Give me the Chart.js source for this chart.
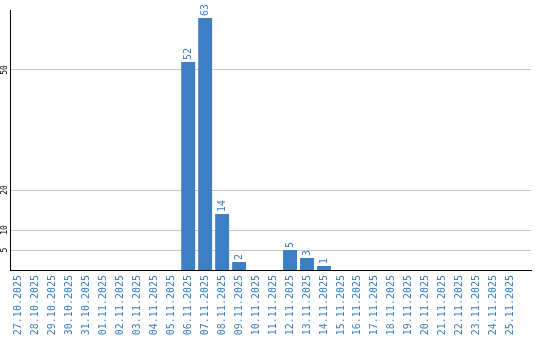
<!DOCTYPE html>
<html>
<head>
<meta charset="utf-8">
<script src="https://cdn.jsdelivr.net/npm/chart.js@4/dist/chart.umd.min.js"></script>
<style>
  html, body { margin: 0; padding: 0; background: #fff; }
  #wrap { width: 540px; height: 340px; }
</style>
</head>
<body>
<div id="wrap"><canvas id="grafico"></canvas></div>
<script>
const dias = [
  "27.10.2025", "28.10.2025", "29.10.2025", "30.10.2025", "31.10.2025",
  "01.11.2025", "02.11.2025", "03.11.2025", "04.11.2025", "05.11.2025",
  "06.11.2025", "07.11.2025", "08.11.2025", "09.11.2025", "10.11.2025",
  "11.11.2025", "12.11.2025", "13.11.2025", "14.11.2025", "15.11.2025",
  "16.11.2025", "17.11.2025", "18.11.2025", "19.11.2025", "20.11.2025",
  "21.11.2025", "22.11.2025", "23.11.2025", "24.11.2025", "25.11.2025",
];
const valores = [
  0, 0, 0, 0, 0,
  0, 0, 0, 0, 0,
  52, 63, 14, 2, 0,
  0, 5, 3, 1, 0,
  0, 0, 0, 0, 0,
  0, 0, 0, 0, 0,
];
const ticksY = [5, 10, 20, 50];

const azul = "#3b7fc4";
const fonte = "'DejaVu Sans Mono', monospace";

// rotulos dos valores em cima das barras e rotulos do eixo y, girados
const rotulos = {
  id: "rotulos",
  afterDatasetsDraw(chart) {
    const ctx = chart.ctx;
    const meta = chart.getDatasetMeta(0);
    ctx.save();
    ctx.fillStyle = azul;
    ctx.font = "10px " + fonte;
    ctx.textAlign = "left";
    ctx.textBaseline = "middle";
    meta.data.forEach((bar, i) => {
      if (!valores[i]) return;
      ctx.save();
      ctx.translate(bar.x, bar.y - 2);
      ctx.rotate(-Math.PI / 2);
      ctx.fillText(String(valores[i]), 0, 0);
      ctx.restore();
    });

    const y = chart.scales.y;
    ctx.fillStyle = "#000";
    ctx.font = "8px " + fonte;
    ctx.textAlign = "center";
    ctx.textBaseline = "middle";
    ticksY.forEach((v) => {
      ctx.save();
      ctx.translate(5, y.getPixelForValue(v));
      ctx.rotate(-Math.PI / 2);
      ctx.fillText(String(v), 0, 0);
      ctx.restore();
    });
    ctx.restore();
  },
};

new Chart(document.getElementById("grafico"), {
  type: "bar",
  data: {
    datasets: [
      {
        data: valores.map((v, i) => ({ x: i, y: v })),
        backgroundColor: azul,
        barPercentage: 0.82,
        categoryPercentage: 1,
      },
    ],
  },
  options: {
    responsive: true,
    maintainAspectRatio: false,
    animation: false,
    layout: { padding: { top: 10, right: 9, left: 0, bottom: 0 } },
    plugins: {
      legend: { display: false },
      tooltip: { enabled: false },
    },
    scales: {
      x: {
        type: "linear",
        offset: false,
        min: -0.5,
        max: 30.2,
        afterBuildTicks(scale) {
          scale.ticks = dias.map((d, i) => ({ value: i }));
        },
        grid: { display: false, drawTicks: false, offset: false },
        border: { color: "#000", width: 1 },
        ticks: {
          color: azul,
          font: { family: fonte, size: 10 },
          minRotation: 90,
          maxRotation: 90,
          padding: 5,
          autoSkip: false,
          callback: (v) => dias[v],
        },
        afterFit(scale) {
          scale.height = 70;
          scale.paddingLeft = 0;
          scale.paddingRight = 0;
        },
      },
      y: {
        min: 0,
        max: 65,
        afterBuildTicks(scale) {
          scale.ticks = ticksY.map((v) => ({ value: v }));
        },
        grid: { color: "#c8c8c8", drawTicks: false },
        border: { color: "#000", width: 1 },
        ticks: { display: false },
        afterFit(scale) {
          scale.width = 10;
        },
      },
    },
  },
  plugins: [rotulos],
});
</script>
</body>
</html>
